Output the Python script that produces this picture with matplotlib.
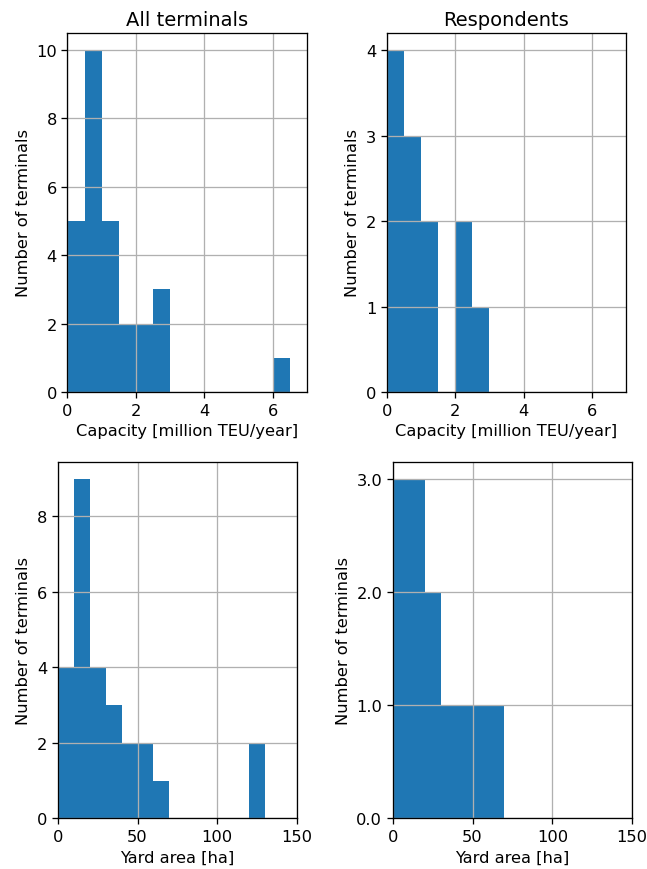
import numpy as np
import matplotlib
matplotlib.use("Agg")
import matplotlib.pyplot as plt
from matplotlib.ticker import FormatStrFormatter, MultipleLocator

# bin edges and counts
capacity_edges = [0.0, 0.5, 1.0, 1.5, 2.0, 2.5, 3.0, 3.5, 4.0, 4.5, 5.0, 5.5, 6.0, 6.5]
capacity_all = [5, 10, 5, 2, 2, 3, 0, 0, 0, 0, 0, 0, 1]
capacity_resp = [4, 3, 2, 0, 2, 1, 0, 0, 0, 0, 0, 0, 0]

yard_edges = [0, 10, 20, 30, 40, 50, 60, 70, 80, 90, 100, 110, 120, 130]
yard_all = [4, 9, 4, 3, 2, 2, 1, 0, 0, 0, 0, 0, 2]
yard_resp = [3, 3, 2, 1, 1, 1, 1, 0, 0, 0, 0, 0, 0]

BLUE = "#1f77b4"

# the original looks like a default-style figure rendered ~1.17x larger
s = 1.17
plt.rcParams.update({
    "font.size": 10 * s,
    "axes.titlesize": 12 * s,
    "axes.linewidth": 0.8 * s,
    "grid.linewidth": 0.8 * s,
    "xtick.major.size": 3.5 * s,
    "ytick.major.size": 3.5 * s,
    "xtick.major.width": 0.8 * s,
    "ytick.major.width": 0.8 * s,
})


def draw_hist(ax, edges, counts, xlim, xlabel, title=None):
    edges = np.array(edges, dtype=float)
    ax.hist(edges[:-1], bins=edges, weights=counts, color=BLUE)
    ax.set_xlim(*xlim)
    ax.grid(True)
    ax.set_xlabel(xlabel)
    ax.set_ylabel("Number of terminals")
    if title:
        ax.set_title(title)


fig = plt.figure(figsize=(6.47, 8.7), dpi=100)

ax1 = fig.add_axes([0.1043, 0.5483, 0.370, 0.4126])
draw_hist(ax1, capacity_edges, capacity_all, (0, 7), "Capacity [million TEU/year]", "All terminals")

ax2 = fig.add_axes([0.5977, 0.5483, 0.370, 0.4126])
draw_hist(ax2, capacity_edges, capacity_resp, (0, 7), "Capacity [million TEU/year]", "Respondents")
ax2.yaxis.set_major_locator(MultipleLocator(1))

ax3 = fig.add_axes([0.0892, 0.0583, 0.370, 0.410])
draw_hist(ax3, yard_edges, yard_all, (0, 150), "Yard area [ha]")

ax4 = fig.add_axes([0.607, 0.0583, 0.370, 0.410])
draw_hist(ax4, yard_edges, yard_resp, (0, 150), "Yard area [ha]")
ax4.yaxis.set_major_locator(MultipleLocator(1))
ax4.yaxis.set_major_formatter(FormatStrFormatter("%.1f"))

fig.savefig("out.png", dpi=100)
